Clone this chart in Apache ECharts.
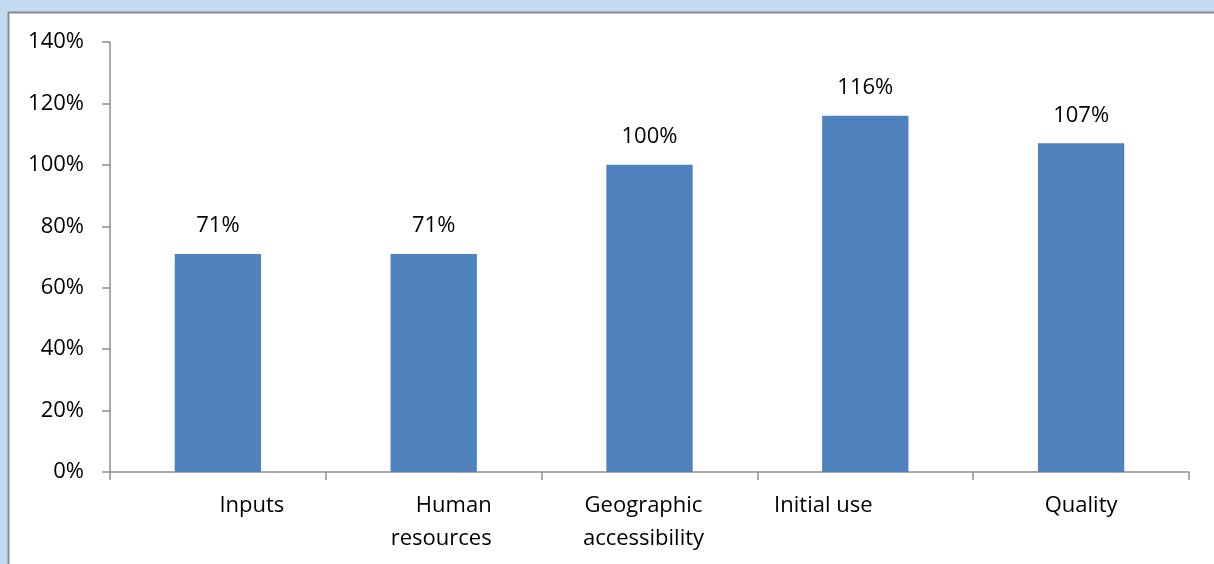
<!DOCTYPE html>
<html>
<head>
<meta charset="utf-8">
<script src="https://cdn.jsdelivr.net/npm/echarts@6/dist/echarts.min.js"></script>
<style>
  html, body { margin: 0; padding: 0; background: #fff; }
  #chart { width: 1214px; height: 564px; }
</style>
</head>
<body>
<div id="chart"></div>
<script>
var categories = ['Inputs', 'Human resources', 'Geographic accessibility', 'Initial use', 'Quality'];
var values = [71, 71, 100, 116, 107];
var yTicks = [0, 20, 40, 60, 80, 100, 120, 140];

// excel placed the axis labels a bit off-centre, so each one gets its own nudge
var labelText = {
  'Inputs': '{a|Inputs}',
  'Human resources': '{b|Human}\n{b|resources}',
  'Geographic accessibility': '{c|Geographic}\n{c|accessibility}',
  'Initial use': '{d|Initial use}',
  'Quality': '{e|Quality}'
};

var chart = echarts.init(document.getElementById('chart'));
var font = 'Open Sans';
var fs = 22;
var lh = 33;
var axisGray = '#8e8e8e';

chart.setOption({
  animation: false,
  backgroundColor: '#fff',
  graphic: [
    { type: 'rect', shape: { x: 0, y: 0, width: 1214, height: 12 }, style: { fill: '#c2dbf3' }, silent: true },
    { type: 'rect', shape: { x: 0, y: 0, width: 8, height: 564 }, style: { fill: '#c2dbf3' }, silent: true },
    { type: 'line', shape: { x1: 8, y1: 12.5, x2: 1214, y2: 12.5 }, style: { stroke: '#8a8a8a', lineWidth: 2 }, silent: true },
    { type: 'line', shape: { x1: 8.5, y1: 12, x2: 8.5, y2: 564 }, style: { stroke: '#8a8a8a', lineWidth: 2 }, silent: true }
  ],
  grid: { left: 110, right: 25, top: 42, bottom: 92, containLabel: false },
  xAxis: {
    type: 'category',
    data: categories,
    axisLine: { lineStyle: { color: axisGray, width: 1.5 } },
    axisTick: { show: true, length: 8, alignWithLabel: false, lineStyle: { color: axisGray, width: 1.5 } },
    axisLabel: {
      interval: 0,
      margin: 17,
      color: '#000',
      fontFamily: font,
      fontSize: fs,
      lineHeight: lh,
      formatter: function (v) { return labelText[v] || v; },
      rich: {
        a: { fontFamily: font, fontSize: fs, color: '#000', lineHeight: lh, padding: [0, 0, 0, 68] },
        b: { fontFamily: font, fontSize: fs, color: '#000', lineHeight: lh, align: 'right', padding: [0, 0, 0, 15] },
        c: { fontFamily: font, fontSize: fs, color: '#000', lineHeight: lh, padding: [0, 12, 0, 0] },
        d: { fontFamily: font, fontSize: fs, color: '#000', lineHeight: lh, padding: [0, 84, 0, 0] },
        e: { fontFamily: font, fontSize: fs, color: '#000', lineHeight: lh }
      }
    },
    splitLine: { show: false }
  },
  yAxis: {
    type: 'value',
    min: yTicks[0],
    max: yTicks[yTicks.length - 1],
    interval: 20,
    axisLine: { show: true, lineStyle: { color: axisGray, width: 1.5 } },
    axisTick: { show: true, length: 8, lineStyle: { color: axisGray, width: 1.5 } },
    axisLabel: {
      margin: 26,
      color: '#000',
      fontFamily: font,
      fontSize: fs,
      formatter: function (v) { return v + '%'; }
    },
    splitLine: { show: false }
  },
  series: [{
    type: 'bar',
    data: values,
    barCategoryGap: '60%',
    itemStyle: { color: '#4f81bd' },
    label: {
      show: true,
      position: 'top',
      distance: 17,
      color: '#000',
      fontFamily: font,
      fontSize: fs,
      formatter: function (p) { return p.value + '%'; }
    }
  }]
});
</script>
</body>
</html>
